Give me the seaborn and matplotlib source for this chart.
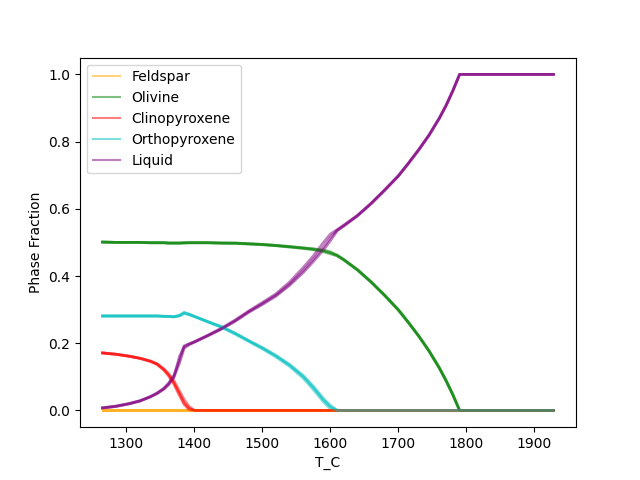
import matplotlib
matplotlib.use("Agg")
import matplotlib.pyplot as plt
import seaborn as sns
import pandas as pd

phases = ["Feldspar", "Olivine", "Clinopyroxene", "Orthopyroxene", "Liquid"]
colors = ["orange", "green", "red", "c", "purple"]

T_C = [1265, 1285, 1305, 1320, 1335, 1345, 1355, 1362, 1370, 1378, 1385, 1392, 1400,
       1420, 1440, 1460, 1480, 1500, 1520, 1540, 1560, 1575, 1590, 1600, 1610,
       1620, 1640, 1660, 1680, 1700, 1715, 1730, 1745, 1760, 1770, 1780, 1790,
       1800, 1850, 1900, 1928]

feldspar = [0.0] * 41

# run A
olivine_a = [0.501, 0.500, 0.500, 0.500, 0.499, 0.499, 0.499, 0.498, 0.498, 0.498, 0.499, 0.499, 0.499,
             0.499, 0.498, 0.498, 0.496, 0.494, 0.491, 0.488, 0.484, 0.481, 0.477, 0.472, 0.462,
             0.449, 0.419, 0.383, 0.343, 0.300, 0.262, 0.222, 0.178, 0.128, 0.090, 0.048, 0.0,
             0.0, 0.0, 0.0, 0.0]
cpx_a = [0.171, 0.167, 0.161, 0.155, 0.147, 0.138, 0.122, 0.106, 0.082, 0.050, 0.022, 0.006, 0.0] + [0.0] * 28
opx_a = [0.281, 0.281, 0.281, 0.281, 0.281, 0.281, 0.280, 0.280, 0.279, 0.282, 0.290, 0.286, 0.280,
         0.264, 0.249, 0.230, 0.208, 0.187, 0.164, 0.137, 0.104, 0.072, 0.035, 0.015, 0.0] + [0.0] * 16
liquid_a = [0.007, 0.012, 0.020, 0.028, 0.040, 0.050, 0.064, 0.078, 0.100, 0.140, 0.185, 0.195, 0.203,
            0.222, 0.242, 0.265, 0.292, 0.315, 0.340, 0.372, 0.410, 0.443, 0.478, 0.505, 0.535,
            0.549, 0.579, 0.615, 0.655, 0.697, 0.735, 0.775, 0.818, 0.868, 0.906, 0.950, 1.0,
            1.0, 1.0, 1.0, 1.0]

# run B
olivine_b = [0.501, 0.500, 0.500, 0.500, 0.499, 0.499, 0.499, 0.498, 0.498, 0.498, 0.499, 0.499, 0.499,
             0.499, 0.498, 0.497, 0.495, 0.493, 0.490, 0.486, 0.482, 0.478, 0.472, 0.466, 0.460,
             0.447, 0.417, 0.381, 0.341, 0.298, 0.260, 0.220, 0.176, 0.126, 0.088, 0.046, 0.0,
             0.0, 0.0, 0.0, 0.0]
cpx_b = [0.171, 0.167, 0.161, 0.155, 0.147, 0.139, 0.124, 0.110, 0.088, 0.058, 0.032, 0.012, 0.0] + [0.0] * 28
opx_b = [0.281, 0.281, 0.281, 0.281, 0.281, 0.281, 0.280, 0.279, 0.279, 0.283, 0.292, 0.287, 0.280,
         0.263, 0.247, 0.227, 0.205, 0.183, 0.159, 0.131, 0.096, 0.062, 0.025, 0.005, 0.0] + [0.0] * 16
liquid_b = [0.007, 0.012, 0.020, 0.028, 0.040, 0.050, 0.063, 0.076, 0.098, 0.160, 0.190, 0.197, 0.204,
            0.224, 0.245, 0.269, 0.296, 0.321, 0.347, 0.382, 0.425, 0.460, 0.500, 0.525, 0.538,
            0.552, 0.581, 0.617, 0.657, 0.699, 0.737, 0.777, 0.820, 0.870, 0.908, 0.952, 1.0,
            1.0, 1.0, 1.0, 1.0]

# run C
olivine_c = [0.501, 0.500, 0.500, 0.500, 0.499, 0.499, 0.499, 0.498, 0.498, 0.498, 0.498, 0.499, 0.499,
             0.499, 0.498, 0.498, 0.496, 0.494, 0.491, 0.487, 0.483, 0.480, 0.475, 0.469, 0.461,
             0.448, 0.418, 0.382, 0.342, 0.299, 0.261, 0.221, 0.177, 0.127, 0.089, 0.047, 0.0,
             0.0, 0.0, 0.0, 0.0]
cpx_c = [0.171, 0.167, 0.161, 0.155, 0.146, 0.137, 0.120, 0.103, 0.078, 0.045, 0.018, 0.003, 0.0] + [0.0] * 28
opx_c = [0.281, 0.281, 0.281, 0.281, 0.281, 0.281, 0.280, 0.280, 0.278, 0.281, 0.288, 0.285, 0.279,
         0.264, 0.249, 0.229, 0.207, 0.186, 0.162, 0.135, 0.101, 0.068, 0.031, 0.011, 0.0] + [0.0] * 16
liquid_c = [0.008, 0.013, 0.021, 0.029, 0.041, 0.052, 0.066, 0.081, 0.105, 0.150, 0.192, 0.198, 0.204,
            0.223, 0.243, 0.267, 0.294, 0.318, 0.343, 0.376, 0.416, 0.450, 0.486, 0.514, 0.536,
            0.550, 0.580, 0.616, 0.656, 0.698, 0.736, 0.776, 0.819, 0.869, 0.907, 0.951, 1.0,
            1.0, 1.0, 1.0, 1.0]

runs = [
    [feldspar, olivine_a, cpx_a, opx_a, liquid_a],
    [feldspar, olivine_b, cpx_b, opx_b, liquid_b],
    [feldspar, olivine_c, cpx_c, opx_c, liquid_c],
]

fig, ax = plt.subplots(figsize=(6.4, 4.8), dpi=100)
for r, run in enumerate(runs):
    for phase, col, vals in zip(phases, colors, run):
        df = pd.DataFrame({"T_C": T_C, "frac": vals})
        sns.lineplot(data=df, x="T_C", y="frac", color=col, alpha=0.5,
                     linewidth=2.0, ax=ax, label=phase if r == 0 else None,
                     legend=False)

ax.set_xlabel("T_C")
ax.set_ylabel("Phase Fraction")
leg = ax.legend(loc="upper left")
for h in leg.get_lines():
    h.set_linewidth(1.5)
fig.savefig("out.png", dpi=100)
